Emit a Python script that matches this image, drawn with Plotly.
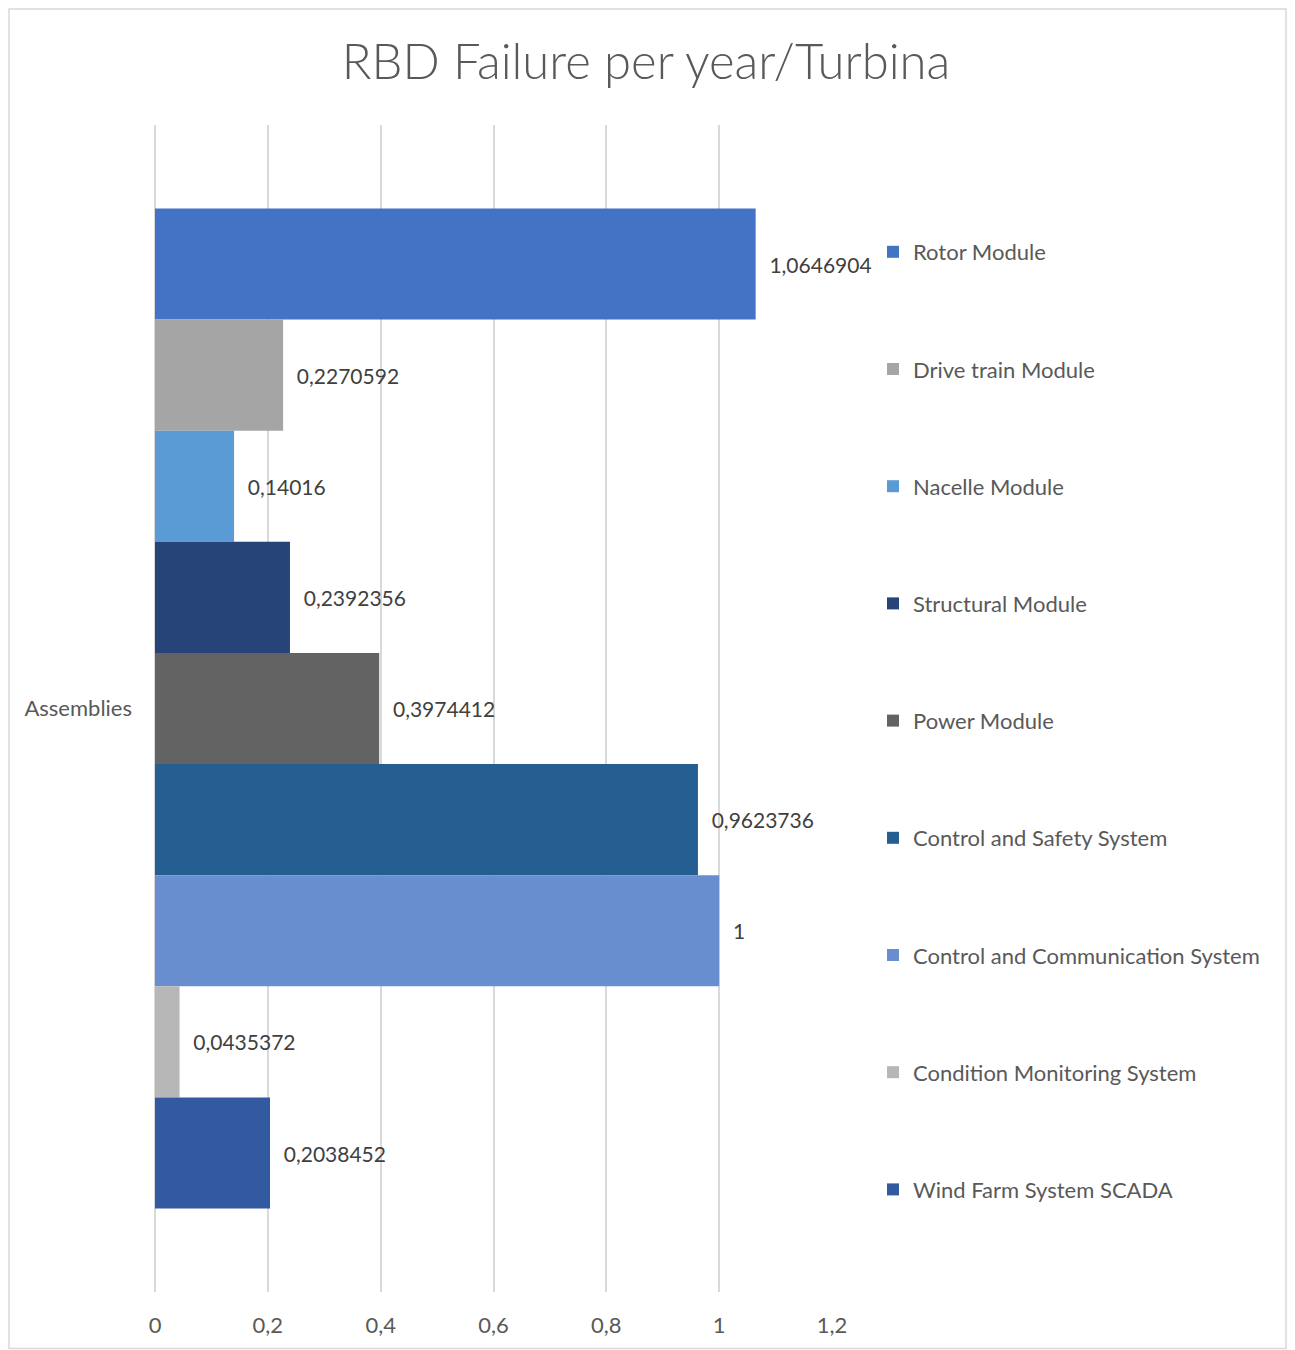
import plotly.graph_objects as go

category = ["Assemblies"]
series_names = [
    "Rotor Module",
    "Drive train Module",
    "Nacelle Module",
    "Structural Module",
    "Power Module",
    "Control and Safety System",
    "Control and Communication System",
    "Condition Monitoring System",
    "Wind Farm System SCADA",
]
series_values = [1.0646904, 0.2270592, 0.14016, 0.2392356, 0.3974412,
                 0.9623736, 1, 0.0435372, 0.2038452]
series_colors = ["#4472C4", "#A5A5A5", "#5B9BD5", "#264478", "#636363",
                 "#255E91", "#698ED0", "#B7B7B7", "#335AA1"]
x_tickvals = [0, 0.2, 0.4, 0.6, 0.8, 1, 1.2]
x_ticktext = ["0", "0,2", "0,4", "0,6", "0,8", "1", "1,2"]

OFF = 8  # page body margin
W, H = 1295 - OFF, 1350 - OFF
L, R_EDGE, T, B_EDGE = 155 - OFF, 832 - OFF, 125 - OFF, 1292 - OFF
pw, ph = R_EDGE - L, B_EDGE - T

def px_x(p):
    return (p - OFF - L) / pw

def px_y(p):
    return (B_EDGE - (p - OFF)) / ph

FONT = "Lato"
fig = go.Figure()
for name, val, col in zip(series_names, series_values, series_colors):
    fig.add_trace(go.Bar(
        y=category, x=[val], name=name, orientation="h",
        marker=dict(color=col, line=dict(width=0)),
        text=["\u00a0\u00a0" + str(val).replace(".", ",")],
        textposition="outside",
        textfont=dict(size=21, color="#404040", family=FONT),
        cliponaxis=False,
        legendgroup=name,
    ))

fig.update_layout(
    width=W, height=H,
    margin=dict(l=L, r=W - R_EDGE, t=T, b=H - B_EDGE, pad=0),
    paper_bgcolor="white", plot_bgcolor="white",
    barmode="group", bargap=0.143, bargroupgap=0,
    separators=",.",
    font=dict(family=FONT, size=22, color="#595959"),
    title=dict(text="RBD Failure per year/Turbina", x=(646 - OFF) / W, xref="container",
               xanchor="center", y=1 - (62 - OFF) / H, yref="container", yanchor="middle",
               font=dict(size=49, color="#595959", family=FONT, weight=300)),
    showlegend=True,
    legend=dict(x=px_x(873), y=px_y(231), xanchor="left", yanchor="top",
                traceorder="grouped", tracegroupgap=85.6,
                font=dict(size=22, color="#595959", family=FONT),
                bgcolor="rgba(0,0,0,0)", borderwidth=0),
    xaxis=dict(range=[0, 1.2], tickvals=x_tickvals, ticktext=x_ticktext,
               showgrid=True, gridcolor="#D9D9D9", gridwidth=1.5,
               zeroline=True, zerolinecolor="#D9D9D9", zerolinewidth=1.5,
               showline=False, ticks="", ticklabelstandoff=18,
               tickfont=dict(size=22, color="#595959", family=FONT),
               fixedrange=True),
    yaxis=dict(autorange="reversed", showgrid=False, zeroline=False,
               showline=False, ticks="", ticklabelstandoff=22,
               tickfont=dict(size=22, color="#595959", family=FONT)),
    shapes=[dict(type="rect", xref="paper", yref="paper",
                 x0=px_x(9), x1=px_x(1286), y0=px_y(1348.5), y1=px_y(9),
                 line=dict(color="#D9D9D9", width=1.5), fillcolor="rgba(0,0,0,0)",
                 layer="below")],
)

fig.write_html("out.html")
